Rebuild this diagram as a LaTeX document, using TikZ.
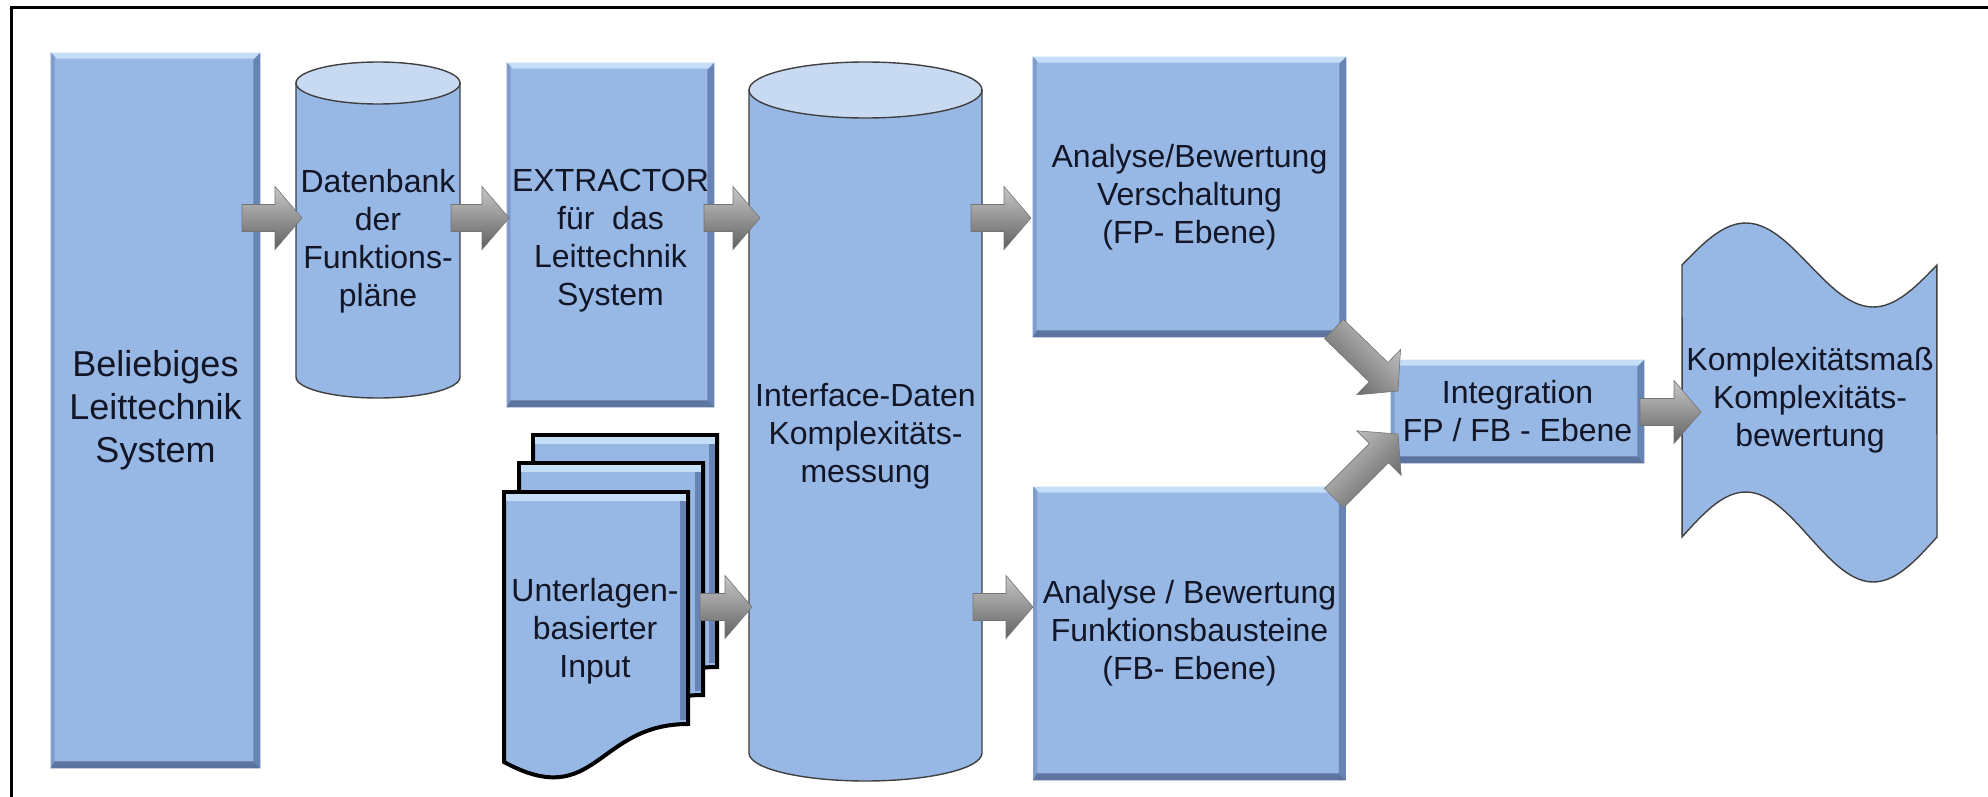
\documentclass[tikz,border=0pt]{standalone}
\usepackage{fontspec}
\setmainfont{Liberation Sans}
\usetikzlibrary{calc}
\definecolor{boxblue}{RGB}{151,183,228}
\definecolor{bevlight}{RGB}{196,222,248}
\definecolor{bevleft}{RGB}{128,156,204}
\definecolor{bevright}{RGB}{104,132,180}
\definecolor{bevbottom}{RGB}{92,116,160}
\definecolor{cyltop}{RGB}{200,218,242}
\definecolor{txt}{RGB}{18,22,38}
\tikzset{
  box/.style={rectangle, fill=boxblue, inner sep=0pt, align=center, text=txt,
              font=\fontsize{16}{19}\selectfont},
  lbl/.style={inner sep=0pt, align=center, text=txt, font=\fontsize{16}{19}\selectfont},
  shapeline/.style={draw=black!75, line width=0.7pt, fill=boxblue},
  docline/.style={draw=black, line width=2pt, fill=boxblue, line join=miter},
  arrowbody/.style={top color=black!22, middle color=black!36, bottom color=black!62,
                    draw=black!55, line width=0.3pt, line join=miter},
  frameline/.style={line width=1.5pt, draw=black},
}
\newcommand\bevel[1]{%
  \fill[bevlight] (#1.north west) -- (#1.north east) -- ($(#1.north east)+(-6,6)$) -- ($(#1.north west)+(6,6)$) -- cycle;
  \fill[bevleft] (#1.north west) -- ($(#1.north west)+(4,4)$) -- ($(#1.south west)+(4,-4)$) -- (#1.south west) -- cycle;
  \fill[bevright] (#1.north east) -- (#1.south east) -- ($(#1.south east)+(-7,-7)$) -- ($(#1.north east)+(-7,7)$) -- cycle;
  \fill[bevbottom] (#1.south west) -- (#1.south east) -- ($(#1.south east)+(-7,-7)$) -- ($(#1.south west)+(4,-7)$) -- cycle;
}
% cylinder: center x, x radius, top y, bottom y, y radius
\newcommand\cyl[5]{%
  \path[shapeline] ($(#1,#3)+(-#2,0)$) -- ($(#1,#4)+(-#2,0)$)
     arc[start angle=180, end angle=0, x radius=#2, y radius=#5]
     -- ($(#1,#3)+(#2,0)$) -- cycle;
  \path[shapeline, fill=cyltop] (#1,#3) ellipse[x radius=#2, y radius=#5];
}
% document page with top-left corner
\newcommand\docpage[2]{%
  \path[docline] (#1,#2) -- ++(184,0) -- ++(0,232)
     .. controls ($(#1,#2)+(92,232)$) and ($(#1,#2)+(92,320)$) .. ($(#1,#2)+(0,270)$) -- cycle;
  \fill[bevlight] ($(#1,#2)+(2,2)$) rectangle ($(#1,#2)+(182,9)$);
  \fill[bevright] ($(#1,#2)+(176,9)$) rectangle ($(#1,#2)+(182,228)$);
}
% block arrow: shading angle, start, end
\newcommand\barrow[3]{%
  \coordinate (ba-m) at ($(#3)!13.5pt!(#2)$);
  \path[arrowbody, shading angle=#1]
    ($(#2)!6.75pt!90:(#3)$) -- ($(ba-m)!6.75pt!90:(#3)$) -- ($(ba-m)!15.75pt!90:(#3)$)
    -- (#3) -- ($(ba-m)!15.75pt!-90:(#3)$) -- ($(ba-m)!6.75pt!-90:(#3)$)
    -- ($(#2)!6.75pt!-90:(#3)$) -- cycle;
}
\begin{document}
\begin{tikzpicture}[x=0.5pt, y=-0.5pt]
\useasboundingbox (0,0) rectangle (1988,797);
\fill[white] (0,0) rectangle (1988,797);
% frame
\draw[frameline] (11.5,797) -- (11.5,7.5) -- (1988,7.5);

% left big box
\node[box, minimum width=104.5pt, minimum height=357.5pt,
      font=\fontsize{18}{21.5}\selectfont] (A) at (155.5,410.5) {Beliebiges\\Leittechnik\\System};
\bevel{A}

% database cylinder
\cyl{378}{82}{83}{377}{21}
\node[lbl] (B) at (378,241) {Datenbank\\der\\Funktions-\\pläne};

% extractor box
\node[box, minimum width=103.5pt, minimum height=172pt] (E) at (610.5,235) {};
\bevel{E}
\node[lbl] (Et) at (610.5,241) {EXTRACTOR\\für\ \ das\\Leittechnik\\System};

% document stack
\docpage{533}{435}
\docpage{519}{463}
\docpage{504}{492}
\node[lbl] (D) at (595,631) {Unterlagen-\\basierter\\Input};

% interface cylinder
\cyl{865.5}{116.5}{90}{753}{28}
\node[lbl] (C) at (865.5,436) {Interface-Daten\\Komplexitäts-\\messung};

% analysis boxes
\node[box, minimum width=156.5pt, minimum height=140pt] (F) at (1189.5,197) {Analyse/Bewertung\\Verschaltung\\(FP- Ebene)};
\bevel{F}
\node[box, minimum width=156pt, minimum height=146.5pt] (G) at (1189.5,633.5) {Analyse / Bewertung\\Funktionsbausteine\\(FB- Ebene)};
\bevel{G}

% integration
\node[box, minimum width=126.5pt, minimum height=51.5pt] (I) at (1517.5,411.5) {Integration\\FP / FB - Ebene};
\bevel{I}

% result tape shape
\path[shapeline] plot[domain=0:1, samples=60, variable=\t] ({1682+255*\t},{265-42*sin(360*\t)})
   -- plot[domain=1:0, samples=60, variable=\t] ({1682+255*\t},{537-45*sin(360*\t)}) -- cycle;
\node[lbl] (W) at (1810,400) {Komplexitätsmaß\\Komplexitäts-\\bewertung};

% arrows
\coordinate (a1s) at (242,218);  \coordinate (a1e) at (302,218);
\coordinate (a2s) at (451,218);  \coordinate (a2e) at (509,218);
\coordinate (a3s) at (704,218);  \coordinate (a3e) at (760,218);
\coordinate (a4s) at (971,218);  \coordinate (a4e) at (1031,218);
\coordinate (a5s) at (700,607);  \coordinate (a5e) at (752,607);
\coordinate (a6s) at (973,607);  \coordinate (a6e) at (1033,607);
\coordinate (a7s) at (1334,329); \coordinate (a7e) at (1398,391);
\coordinate (a8s) at (1334,498); \coordinate (a8e) at (1398,434);
\coordinate (a9s) at (1640,412); \coordinate (a9e) at (1701,412);
\barrow{0}{a1s}{a1e}
\barrow{0}{a2s}{a2e}
\barrow{0}{a3s}{a3e}
\barrow{0}{a4s}{a4e}
\barrow{0}{a5s}{a5e}
\barrow{0}{a6s}{a6e}
\barrow{-45}{a7s}{a7e}
\barrow{45}{a8s}{a8e}
\barrow{0}{a9s}{a9e}
\end{tikzpicture}
\end{document}
